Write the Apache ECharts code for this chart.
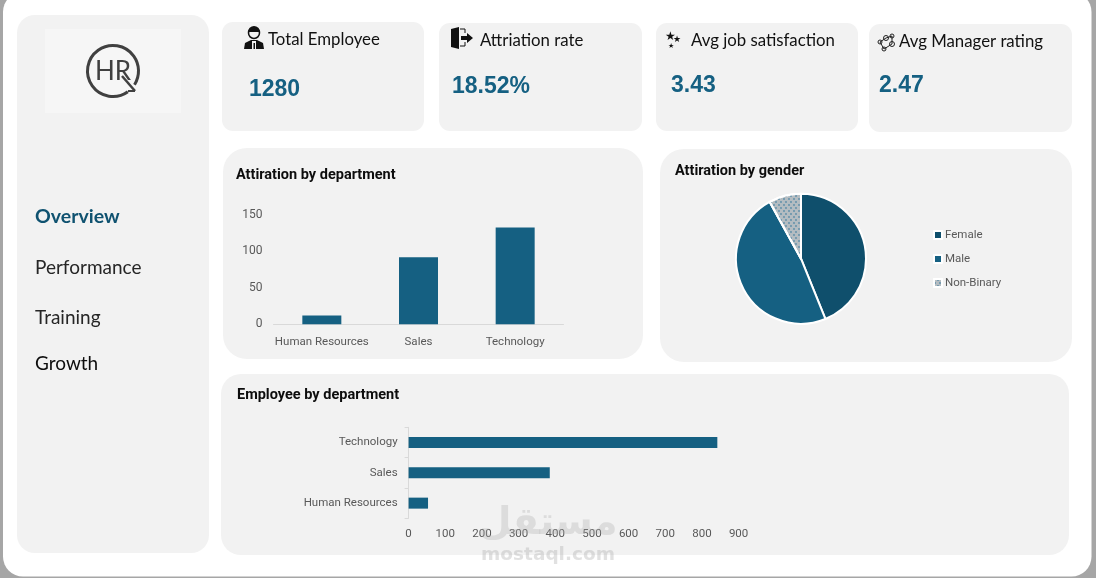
<!DOCTYPE html>
<html>
<head>
<meta charset="utf-8">
<title>HR dashboard</title>
<script src="https://cdn.jsdelivr.net/npm/echarts@6/dist/echarts.min.js"></script>
<style>
html, body { margin: 0; padding: 0; background: #a6a6a6; }
#main { width: 1096px; height: 578px; }
</style>
</head>
<body>
<div id="main"></div>
<script>
// data
var departments = ['Human Resources', 'Sales', 'Technology'];
var attritionByDept = [12, 92, 133];
var employeeByDept = [53, 385, 842];
var genders = ['Female', 'Male', 'Non-Binary'];
var attritionByGender = [104, 114, 19];
var kpiTitles = ['Total Employee', 'Attriation rate', 'Avg job satisfaction', 'Avg Manager rating'];
var kpiValues = ['1280', '18.52%', '3.43', '2.47'];
var navItems = ['Overview', 'Performance', 'Training', 'Growth'];

var BLUE = '#156082';
var DARK = '#0f4f6c';
var GREY_TEXT = '#595959';
var PANEL = '#f2f2f2';
var LABEL_FONT = 'Roboto';

function panel(x, y, w, h, r) {
    return { type: 'rect', z: 0, shape: { x: x, y: y, width: w, height: h, r: r }, style: { fill: PANEL } };
}
function label(text, x, y, size, font, color, weight, align) {
    return {
        type: 'text', z: 5, x: x, y: y,
        style: { text: text, fontSize: size, fontFamily: font, fill: color, fontWeight: weight || 'normal', textAlign: align || 'left', textVerticalAlign: 'middle' }
    };
}

var graphics = [
    // white sheet on the grey window
    { type: 'rect', z: 0, shape: { x: 3, y: -8, width: 1088.5, height: 584.5, r: 20 }, style: { fill: '#ffffff' } },
    panel(17, 15, 192, 538, 18),
    panel(222, 22, 202, 109, 11),
    panel(439, 23, 203, 108, 11),
    panel(656, 23, 202, 108, 11),
    panel(869, 24, 203, 108, 11),
    panel(223, 148, 420, 211, 24),
    panel(660, 149, 412, 213, 24),
    panel(221, 374, 848, 181, 20),
    // logo
    { type: 'rect', z: 1, shape: { x: 45, y: 29, width: 136, height: 84 }, style: { fill: '#f6f6f6' } },
    { type: 'arc', z: 2, shape: { cx: 113, cy: 71, r: 25.5, startAngle: 0.95, endAngle: 0.95 + 5.9 }, style: { stroke: '#404040', lineWidth: 3, fill: null } },
    { type: 'line', z: 2, shape: { x1: 122, y1: 76, x2: 135, y2: 91 }, style: { stroke: '#404040', lineWidth: 2.5 } },
    { type: 'line', z: 2, shape: { x1: 135, y1: 91, x2: 128, y2: 91 }, style: { stroke: '#404040', lineWidth: 2 } },
    label('HR', 113, 72, 26, 'Lato', '#404040', 'normal', 'center'),
    // icon: employee
    { type: 'circle', z: 3, shape: { cx: 254, cy: 33, r: 5.5 }, style: { fill: '#f2f2f2', stroke: '#111', lineWidth: 1.5 } },
    { type: 'sector', z: 3, shape: { cx: 254, cy: 32, r: 6, startAngle: Math.PI, endAngle: Math.PI * 2 }, style: { fill: '#111' } },
    { type: 'polygon', z: 3, shape: { points: [[244, 49], [245, 43], [251, 40], [257, 40], [263, 43], [264, 49]] }, style: { fill: '#111' } },
    { type: 'rect', z: 4, shape: { x: 252, y: 41, width: 4, height: 8 }, style: { fill: '#f2f2f2' } },
    { type: 'rect', z: 4, shape: { x: 253.5, y: 43, width: 1.5, height: 6 }, style: { fill: '#111' } },
    // icon: door
    { type: 'polygon', z: 3, shape: { points: [[451, 29], [459, 27], [459, 49], [451, 47]] }, style: { fill: '#111' } },
    { type: 'polyline', z: 3, shape: { points: [[460, 29], [465, 29], [465, 33]] }, style: { fill: 'none', stroke: '#111', lineWidth: 1 } },
    { type: 'polyline', z: 3, shape: { points: [[460, 46], [465, 46], [465, 42]] }, style: { fill: 'none', stroke: '#111', lineWidth: 1 } },
    { type: 'polygon', z: 4, shape: { points: [[461, 36], [467, 36], [467, 33], [473, 38], [467, 43], [467, 40], [461, 40]] }, style: { fill: '#111' } },
    // icon: stars
    label('★', 665, 37, 12, 'DejaVu Sans', '#111'),
    label('★', 673, 40, 9, 'DejaVu Sans', '#111'),
    label('★', 668, 46, 7, 'DejaVu Sans', '#111'),
    // icon: manager network
    { type: 'circle', z: 3, shape: { cx: 880, cy: 42, r: 2 }, style: { fill: 'none', stroke: '#222', lineWidth: 1 } },
    { type: 'circle', z: 3, shape: { cx: 884, cy: 49, r: 2 }, style: { fill: 'none', stroke: '#222', lineWidth: 1 } },
    { type: 'circle', z: 3, shape: { cx: 886, cy: 38, r: 2.5 }, style: { fill: 'none', stroke: '#222', lineWidth: 1 } },
    { type: 'circle', z: 3, shape: { cx: 892, cy: 36, r: 2 }, style: { fill: 'none', stroke: '#222', lineWidth: 1 } },
    { type: 'circle', z: 3, shape: { cx: 892, cy: 44, r: 2.5 }, style: { fill: 'none', stroke: '#222', lineWidth: 1 } },
    { type: 'polyline', z: 3, shape: { points: [[880, 42], [886, 38], [892, 36], [892, 44], [884, 49], [880, 42]] }, style: { fill: 'none', stroke: '#222', lineWidth: 1 } },
    // watermark
    label('مستقل', 548, 524, 38, 'DejaVu Sans', 'rgba(170,170,170,0.3)', 'bold', 'center'),
    label('mostaql.com', 548, 555, 18.5, 'DejaVu Sans', 'rgba(170,170,170,0.35)', 'bold', 'center')
];
graphics[graphics.length - 1].z = 20;
graphics[graphics.length - 2].z = 20;

// sidebar
var navY = [217, 267.5, 317.5, 363.5];
var navColors = ['#0f5270', '#262626', '#262626', '#0d0d0d'];
navItems.forEach(function (item, i) {
    graphics.push(label(item, 35, navY[i], i === 0 ? 19.5 : 19, 'Lato', navColors[i], i === 0 ? 'bold' : 'normal'));
});

// kpi cards
var kpiTitleX = [268, 480, 691, 899];
var kpiTitleY = [40, 41, 41, 42];
var kpiValueX = [249, 452, 671, 879];
var kpiValueY = [90, 87, 86, 86];
kpiTitles.forEach(function (t, i) {
    graphics.push(label(t, kpiTitleX[i], kpiTitleY[i], 16.8, 'Lato', '#111111'));
    graphics.push(label(kpiValues[i], kpiValueX[i], kpiValueY[i], 23, 'Liberation Sans', BLUE, 'bold'));
});

var titleStyle = { fontFamily: 'Roboto', fontSize: 14.5, fontWeight: 'bold', color: '#0d0d0d' };
var axisText = { color: GREY_TEXT, fontFamily: LABEL_FONT, fontSize: 11.5 };

var myChart = echarts.init(document.getElementById('main'));
myChart.setOption({
    animation: false,
    backgroundColor: '#a6a6a6',
    graphic: graphics,
    title: [
        { text: 'Attiration by department', left: 231, top: 163, textStyle: titleStyle },
        { text: 'Attiration by gender', left: 670, top: 159, textStyle: titleStyle },
        { text: 'Employee by department', left: 232, top: 383, textStyle: titleStyle }
    ],
    grid: [
        { left: 273.5, top: 215, width: 290, height: 109.3 },
        { left: 408.6, top: 427.3, width: 330, height: 91 }
    ],
    xAxis: [
        {
            type: 'category', gridIndex: 0, data: departments,
            axisLine: { lineStyle: { color: '#d9d9d9' } },
            axisTick: { show: false },
            axisLabel: Object.assign({ margin: 11.5, interval: 0 }, axisText)
        },
        {
            type: 'value', gridIndex: 1, min: 0, max: 900, interval: 100,
            axisLine: { show: false }, axisTick: { show: false }, splitLine: { show: false },
            axisLabel: Object.assign({ margin: 10 }, axisText)
        }
    ],
    yAxis: [
        {
            type: 'value', gridIndex: 0, min: 0, max: 150, interval: 50,
            axisLine: { show: false }, axisTick: { show: false }, splitLine: { show: false },
            axisLabel: { margin: 11, color: GREY_TEXT, fontFamily: LABEL_FONT, fontSize: 12 }
        },
        {
            type: 'category', gridIndex: 1, data: departments,
            axisLine: { show: true, lineStyle: { color: '#d9d9d9' } },
            axisTick: { show: true, length: 4, lineStyle: { color: '#d9d9d9' } },
            axisLabel: Object.assign({ margin: 11, interval: 0 }, axisText)
        }
    ],
    legend: {
        orient: 'vertical', left: 928, top: 224, itemWidth: 8, itemHeight: 8, itemGap: 12,
        icon: 'rect', data: genders,
        textStyle: { color: GREY_TEXT, fontFamily: LABEL_FONT, fontSize: 11.5, padding: [0, 0, 0, -2] }
    },
    series: [
        {
            name: 'Attrition', type: 'bar', xAxisIndex: 0, yAxisIndex: 0,
            data: attritionByDept, barWidth: 39, itemStyle: { color: BLUE }
        },
        {
            name: 'Employees', type: 'bar', xAxisIndex: 1, yAxisIndex: 1,
            data: employeeByDept, barWidth: 11, itemStyle: { color: BLUE }
        },
        {
            name: 'Gender', type: 'pie', center: [801, 258.7], radius: [0, 65], startAngle: 90,
            label: { show: false }, labelLine: { show: false },
            data: genders.map(function (g, i) {
                var colors = [DARK, BLUE, '#b4bcc1'];
                var item = {
                    name: g, value: attritionByGender[i],
                    itemStyle: { color: colors[i], borderColor: '#ffffff', borderWidth: 2 }
                };
                if (i === 2) {
                    // dotted fill of the small slice
                    item.itemStyle.decal = {
                        symbol: 'circle', symbolSize: 0.9, color: '#5b8ca8',
                        dashArrayX: [[2, 3], [0, 3, 2, 0]], dashArrayY: [2, 1], rotation: 0
                    };
                }
                return item;
            })
        }
    ]
});
</script>
</body>
</html>
